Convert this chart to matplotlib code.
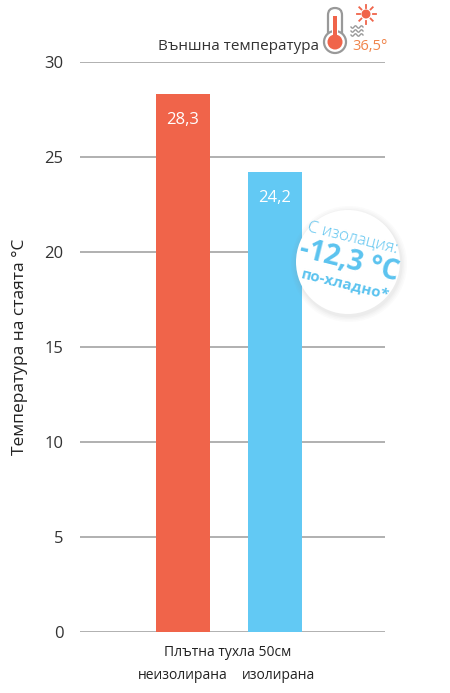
import numpy as np
import matplotlib.pyplot as plt
from matplotlib.patches import Circle, FancyBboxPatch, Rectangle
from matplotlib.transforms import Affine2D

plt.rcParams['font.family'] = ['Open Sans', 'DejaVu Sans']

# data
categories = ['неизолирана', 'изолирана']
values = [28.3, 24.2]
value_labels = ['28,3', '24,2']
bar_colors = ['#f0644a', '#62c9f4']
yticks = [0, 5, 10, 15, 20, 25, 30]
group_label = 'Плътна тухла 50см'
outside_temp = '36,5°'
diff_label = '-12,3 °C'

W, H = 450, 693
fig = plt.figure(figsize=(W / 100, H / 100), dpi=100)
ax = fig.add_axes([80 / W, 61 / H, 305 / W, 570 / H])

x = np.arange(len(values))
ax.bar(x, values, width=0.587, color=bar_colors, zorder=3)
for xi, v, lab in zip(x, values, value_labels):
    ax.text(xi, v - 1.35, lab, ha='center', va='center', color='white', fontsize=12, zorder=4)

ax.set_xlim(-1.12, 2.196)
ax.set_ylim(0, 30)
ax.set_yticks(yticks)
ax.set_yticklabels([str(t) for t in yticks], fontsize=12, color='#333333')
ax.set_xticks([])
for t in yticks:
    ax.axhline(t, color='#aaaaaa', lw=1.3, zorder=1)
for s in ax.spines.values():
    s.set_visible(False)
ax.tick_params(axis='y', length=0, pad=12)
ax.set_ylabel('Температура на стаята °C', fontsize=12.5, color='#222222', labelpad=12)

# category labels below
ax.text(0.485, -0.036, group_label, transform=ax.get_xaxis_transform(), ha='center', va='center',
        fontsize=10, color='#222222')
for xi, c in zip(x, categories):
    ax.text(xi + 0.04 * xi, -0.076, c, transform=ax.get_xaxis_transform(), ha='center', va='center',
            fontsize=10, color='#222222')

# header: outside temperature (pixel coords, origin top-left)
pxt = Affine2D().scale(1, -1).translate(0, H)
fig.text(239 / W, 1 - 46 / H, 'Външна температура', ha='center', va='center', fontsize=11,
         color='#333333')

# thermometer
fig.patches.append(FancyBboxPatch((328, 8), 14, 34, boxstyle='round,pad=0,rounding_size=7',
                                  transform=pxt, fc='white', ec='#999999', lw=1.6))
fig.patches.append(Circle((335, 42), 11, transform=pxt, fc='white', ec='#999999', lw=1.6))
fig.patches.append(Rectangle((332, 12), 6, 32, transform=pxt, fc='white', ec='none'))
fig.patches.append(Circle((335, 42), 7.5, transform=pxt, fc='#f0644a', ec='none'))
fig.patches.append(Rectangle((333, 16), 4, 26, transform=pxt, fc='#f0644a', ec='none'))
# sun
fig.patches.append(Circle((366, 14), 4.5, transform=pxt, fc='#f0644a', ec='none'))
for a in np.linspace(0, 2 * np.pi, 8, endpoint=False):
    x0, y0 = 366 + 6.5 * np.cos(a), 14 + 6.5 * np.sin(a)
    x1, y1 = 366 + 9.5 * np.cos(a), 14 + 9.5 * np.sin(a)
    fig.lines.append(plt.Line2D([x0, x1], [y0, y1], transform=pxt, color='#f0644a', lw=1.3))
# heat waves
wx = np.linspace(351, 363, 30)
for wy in (27, 31, 35):
    fig.lines.append(plt.Line2D(wx, wy + 1.2 * np.sin((wx - 351) * 2 * np.pi / 6), transform=pxt,
                                color='#999999', lw=1.0))
fig.text(352 / W, 1 - 46 / H, outside_temp, ha='left', va='center', fontsize=10.5, color='#f0844a')

# badge with shadow
cx, cy, r = 348, 262, 52
for i, a in enumerate([0.03, 0.03, 0.04, 0.05]):
    fig.patches.append(Circle((cx + 1, cy + 2), r + 6 - i * 1.5, transform=pxt, fc='#888888',
                              alpha=a, ec='none'))
fig.patches.append(Circle((cx, cy), r, transform=pxt, fc='white', ec='none'))
blue = '#5bc3ef'
rot = -14
fig.text((cx + 5) / W, 1 - (cy - 24) / H, 'С изолация:', ha='center', va='center', rotation=rot,
         rotation_mode='anchor', fontsize=12, color=blue, fontweight='light')
fig.text((cx + 1) / W, 1 - (cy - 1) / H, diff_label, ha='center', va='center', rotation=rot,
         rotation_mode='anchor', fontsize=20, color=blue, fontweight='bold')
fig.text((cx - 3) / W, 1 - (cy + 23) / H, 'по-хладно*', ha='center', va='center', rotation=rot,
         rotation_mode='anchor', fontsize=11, color=blue, fontweight='bold')

fig.savefig('out.png', dpi=100)
